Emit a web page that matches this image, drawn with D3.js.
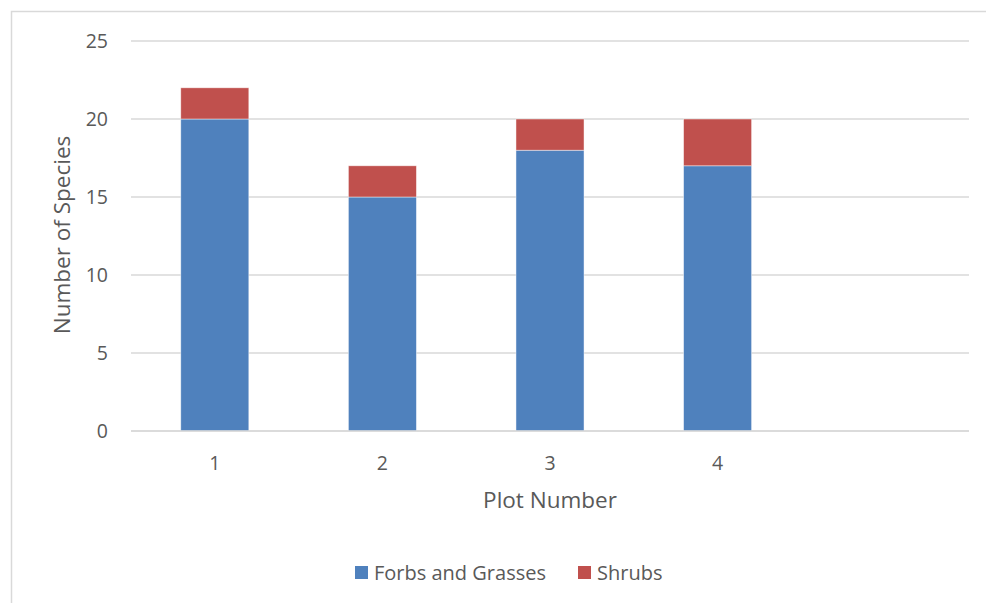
<!DOCTYPE html>
<html>
<head>
<meta charset="utf-8">
<script src="https://cdn.jsdelivr.net/npm/d3@7"></script>
<style>
  html, body { margin: 0; padding: 0; background: #fff; }
  svg { display: block; }
  text { font-family: "Open Sans", "Noto Sans", sans-serif; fill: #595959; }
</style>
</head>
<body>
<svg id="chart" width="986" height="603"></svg>
<script>
// Plot categories (fifth slot left empty on the axis)
const plots = ["1", "2", "3", "4", ""];
// Species counts per plot
const forbsAndGrasses = [20, 15, 18, 17, null];
const shrubs = [2, 2, 2, 3, null];
const seriesNames = ["Forbs and Grasses", "Shrubs"];
const seriesColors = ["#4f81bd", "#c0504d"];
const yTicks = [0, 5, 10, 15, 20, 25];

const svg = d3.select("#chart");
const W = 986, H = 603;

// Chart frame
svg.append("rect")
  .attr("x", 11.5).attr("y", 11.5)
  .attr("width", W).attr("height", H)
  .attr("fill", "#fff").attr("stroke", "#d9d9d9").attr("stroke-width", 1.5);

const plotLeft = 131, plotRight = 969, plotTop = 41, plotBottom = 431;

const x = d3.scaleBand().domain(d3.range(plots.length)).range([plotLeft, plotRight]).paddingInner(0.594).paddingOuter(0.297);
const y = d3.scaleLinear().domain([0, 25]).range([plotBottom, plotTop]);

// Gridlines
svg.append("g").selectAll("line").data(yTicks).join("line")
  .attr("x1", plotLeft).attr("x2", plotRight)
  .attr("y1", d => y(d)).attr("y2", d => y(d))
  .attr("stroke", "#d9d9d9").attr("stroke-width", 1.3);

// Y tick labels
const yAxis = d3.axisLeft(y).tickValues(yTicks).tickSize(0).tickPadding(0);
const ya = svg.append("g").attr("transform", `translate(${plotLeft - 23},0)`).call(yAxis);
ya.select(".domain").remove();
ya.selectAll("text").attr("font-size", 19.5).attr("fill", "#595959")
  .style("font-family", '"Open Sans", sans-serif');

// Stacked bars
const rows = plots.map((p, i) => ({ i, f: forbsAndGrasses[i], s: shrubs[i] })).filter(d => d.f != null);
const stack = d3.stack().keys(["f", "s"])(rows);
svg.append("g").selectAll("g").data(stack).join("g")
  .attr("fill", (d, k) => seriesColors[k])
  .selectAll("rect").data(d => d).join("rect")
  .attr("x", d => x(d.data.i))
  .attr("width", x.bandwidth())
  .attr("y", d => y(d[1]))
  .attr("height", d => y(d[0]) - y(d[1]))
  .attr("stroke", "#fff").attr("stroke-width", 0.75).attr("stroke-opacity", 0.6);

// X axis line and labels
svg.append("line").attr("x1", plotLeft).attr("x2", plotRight).attr("y1", plotBottom).attr("y2", plotBottom)
  .attr("stroke", "#d9d9d9").attr("stroke-width", 1.3);
const xAxis = d3.axisBottom(x).tickFormat(i => plots[i]).tickSize(0).tickPadding(0);
const xa = svg.append("g").attr("transform", `translate(0,${plotBottom + 39})`).call(xAxis);
xa.select(".domain").remove();
xa.selectAll("text").attr("font-size", 19.5).attr("fill", "#595959").attr("dy", 0)
  .style("font-family", '"Open Sans", sans-serif');

// Axis titles
svg.append("text").attr("x", 550).attr("y", 508).attr("text-anchor", "middle")
  .attr("font-size", 22.5).text("Plot Number");
svg.append("text").attr("transform", "translate(70,235) rotate(-90)").attr("text-anchor", "middle")
  .attr("font-size", 22.5).text("Number of Species");

// Legend
const legendX = [355, 578];
const lg = svg.append("g");
seriesNames.forEach((name, k) => {
  lg.append("rect").attr("x", legendX[k]).attr("y", 566).attr("width", 13).attr("height", 13)
    .attr("fill", seriesColors[k]);
  lg.append("text").attr("x", legendX[k] + 19).attr("y", 580).attr("font-size", 20).text(name);
});
</script>
</body>
</html>
